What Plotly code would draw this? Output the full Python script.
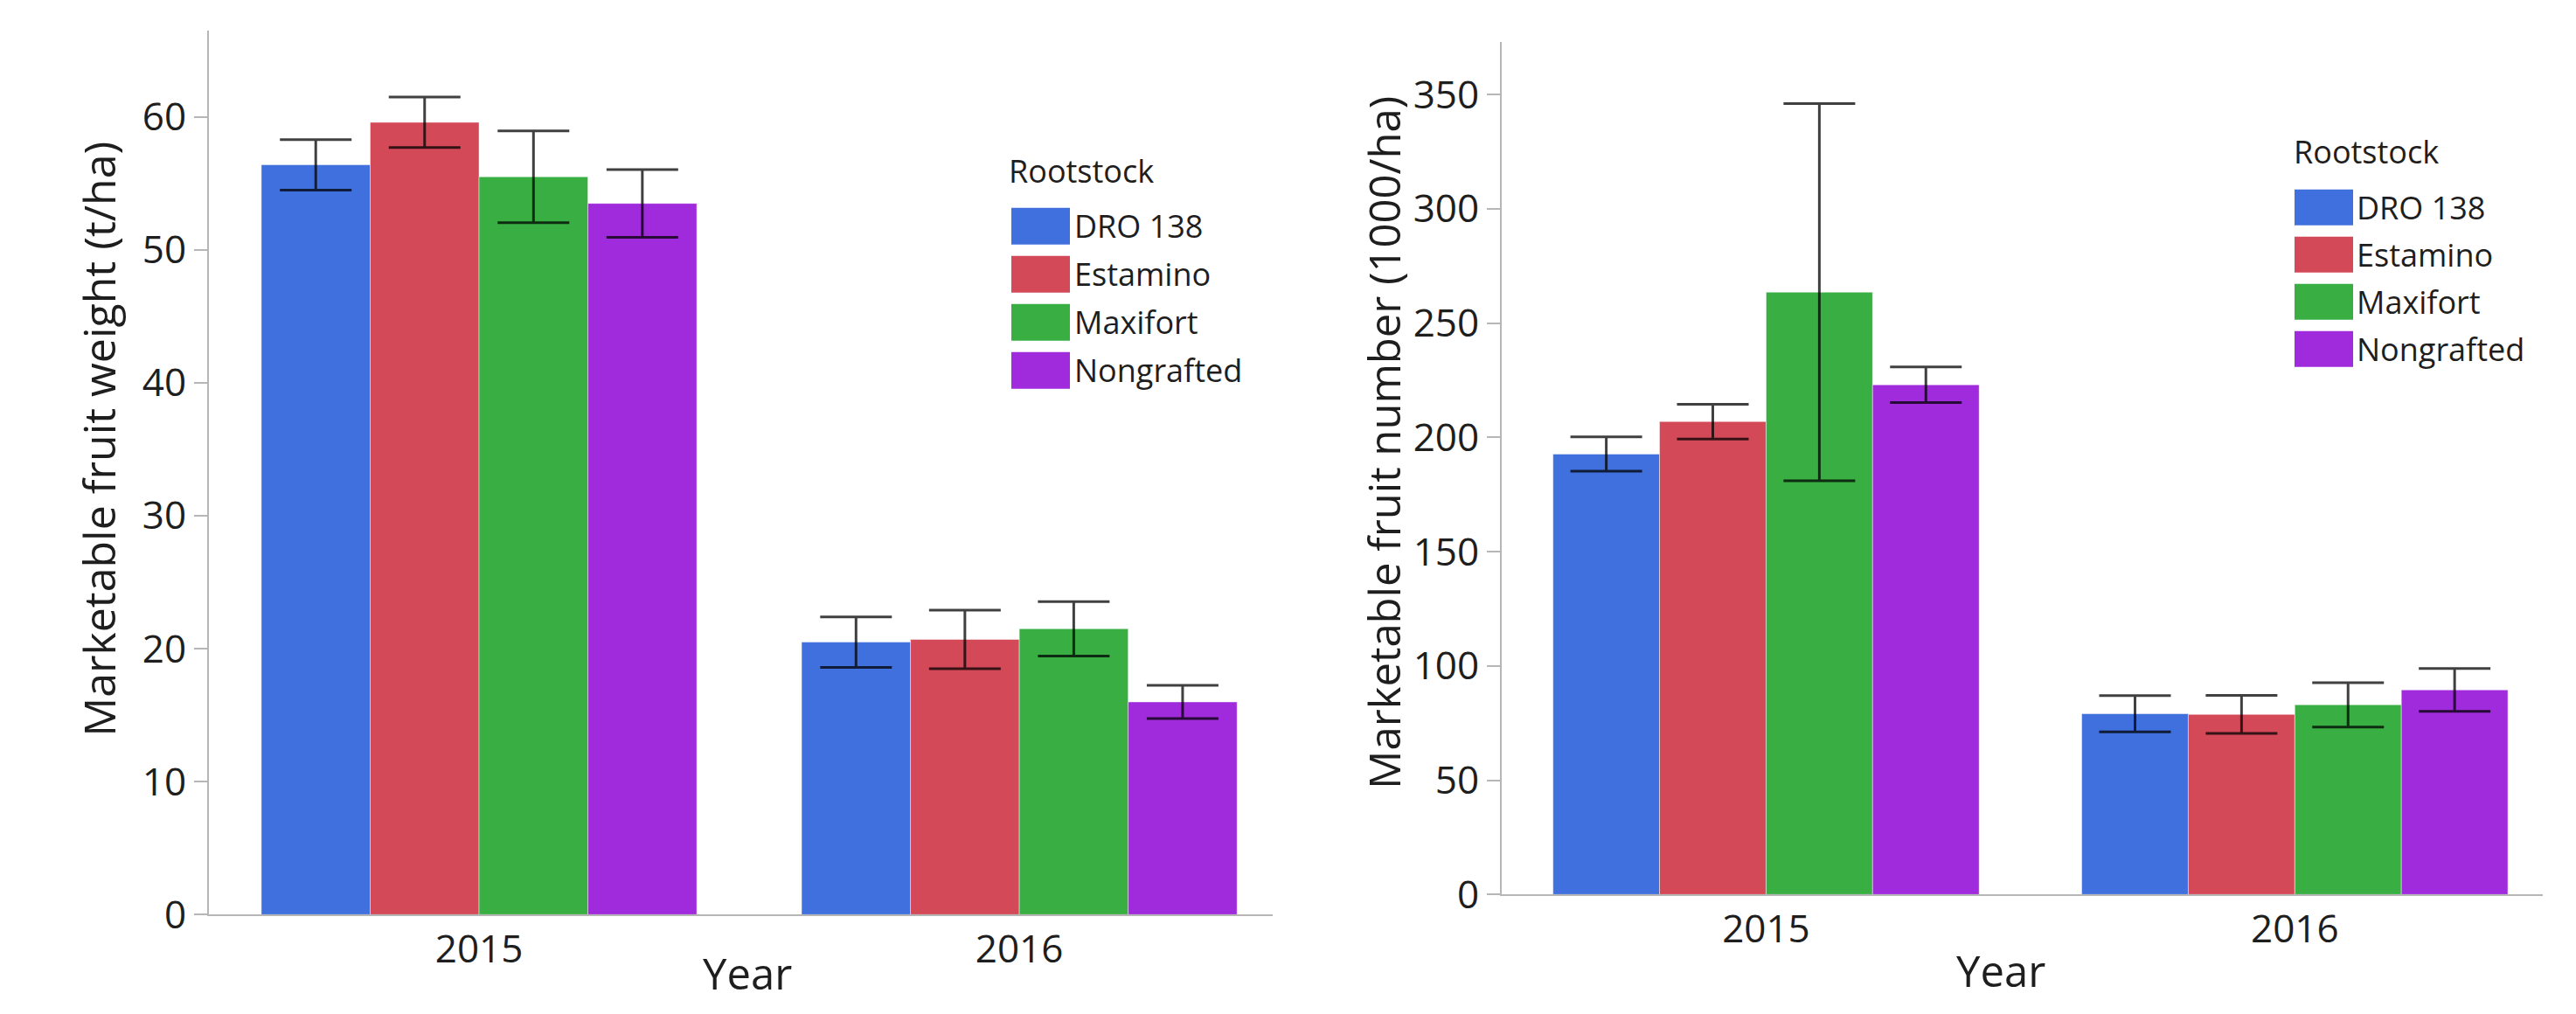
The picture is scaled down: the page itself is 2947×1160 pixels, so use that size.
import plotly.graph_objects as go

W, H = 2947, 1160
# the rendered page comes out slightly taller than the figure, so vertical
# pixel targets are stretched by this factor before converting to paper units
VSTRETCH = 1 / 0.9765

years = ["2015", "2016"]
rootstocks = ["DRO 138", "Estamino", "Maxifort", "Nongrafted"]
bar_colors = ["#4070de", "#d44958", "#39af43", "#a02bdc"]

# Marketable fruit weight (t/ha): means and error half-widths per year
weight_dro138 = [56.4, 20.5]
weight_estamino = [59.6, 20.7]
weight_maxifort = [55.5, 21.5]
weight_nongrafted = [53.5, 16.0]
weight_dro138_err = [1.9, 1.9]
weight_estamino_err = [1.9, 2.2]
weight_maxifort_err = [3.45, 2.05]
weight_nongrafted_err = [2.55, 1.25]

# Marketable fruit number (1000/ha): means and error half-widths per year
number_dro138 = [192.7, 79.1]
number_estamino = [206.9, 78.8]
number_maxifort = [263.5, 83.0]
number_nongrafted = [223.0, 89.5]
number_dro138_err = [7.5, 7.9]
number_estamino_err = [7.6, 8.3]
number_maxifort_err = [82.5, 9.7]
number_nongrafted_err = [7.8, 9.35]

weight_means = [weight_dro138, weight_estamino, weight_maxifort, weight_nongrafted]
weight_errs = [weight_dro138_err, weight_estamino_err, weight_maxifort_err, weight_nongrafted_err]
number_means = [number_dro138, number_estamino, number_maxifort, number_nongrafted]
number_errs = [number_dro138_err, number_estamino_err, number_maxifort_err, number_nongrafted_err]

FONT = "Open Sans, Noto Sans, sans-serif"
TEXT = "#1e1e1e"
AXIS = "#b6b6b6"


def fx(px):
    return px / W


def fy(py):
    return max(0.0, 1 - py * VSTRETCH / H)


fig = go.Figure()


def add_bars(means, errs, xa, ya):
    for name, color, m, e in zip(rootstocks, bar_colors, means, errs):
        fig.add_trace(go.Bar(
            x=years, y=m, name=name, xaxis=xa, yaxis=ya, showlegend=False,
            marker=dict(color=color, line=dict(color="rgba(255,255,255,0.45)", width=1)),
            error_y=dict(type="data", array=e, visible=True,
                         color="rgba(0,0,0,0.75)", thickness=3, width=41),
        ))


add_bars(weight_means, weight_errs, "x", "y")
add_bars(number_means, number_errs, "x2", "y2")

xcommon = dict(type="category", categoryorder="array", categoryarray=years,
               range=[-0.5, 1.469], showline=True, linecolor=AXIS, linewidth=2,
               ticks="", showgrid=False, zeroline=False,
               tickfont=dict(family=FONT, size=44, color=TEXT))
ycommon = dict(showline=True, linecolor=AXIS, linewidth=2, ticks="outside",
               ticklen=15, tickwidth=2, tickcolor=AXIS, showgrid=False,
               zeroline=False, tickfont=dict(family=FONT, size=44, color=TEXT))

fig.update_layout(
    width=W, height=H,
    margin=dict(l=0, r=0, t=0, b=0),
    paper_bgcolor="white", plot_bgcolor="white",
    barmode="group", bargap=0.194, bargroupgap=0,
    font=dict(family=FONT, color=TEXT),
    xaxis=dict(domain=[fx(239), fx(1456)], anchor="y", **xcommon),
    yaxis=dict(domain=[fy(1047), fy(35)], anchor="x", range=[0, 66.5],
               tick0=0, dtick=10, **ycommon),
    xaxis2=dict(domain=[fx(1718), fx(2909)], anchor="y2", **xcommon),
    yaxis2=dict(domain=[fy(1024), fy(48)], anchor="x2", range=[0, 373],
                tick0=0, dtick=50, **ycommon),
)

annotations = [
    dict(text="Marketable fruit weight (t/ha)", x=fx(113), y=fy(503), textangle=-90,
         font=dict(size=50)),
    dict(text="Year", x=fx(855), y=0, yanchor="bottom", yshift=-16, font=dict(size=49)),
    dict(text="Marketable fruit number (1000/ha)", x=fx(1583), y=fy(507), textangle=-90,
         font=dict(size=49)),
    dict(text="Year", x=fx(2289), y=fy(1111), font=dict(size=49)),
]

shapes = []


def add_legend(title_x, title_y, sw_x0, sw_x1, sw_top, sw_h, step, text_x):
    annotations.append(dict(text="Rootstock", x=fx(title_x), y=fy(title_y),
                            xanchor="left", font=dict(size=36)))
    for i, (name, color) in enumerate(zip(rootstocks, bar_colors)):
        top = sw_top + i * step
        shapes.append(dict(type="rect", xref="paper", yref="paper",
                           x0=fx(sw_x0), x1=fx(sw_x1), y0=fy(top + sw_h), y1=fy(top),
                           fillcolor=color, line=dict(width=0)))
        annotations.append(dict(text=name, x=fx(text_x), y=fy(top + sw_h / 2),
                                xanchor="left", font=dict(size=36)))


add_legend(1152, 196, 1157, 1224, 238, 42, 55, 1227)
add_legend(2622, 174, 2625, 2692, 217, 41, 54, 2694)

for a in annotations:
    a.update(xref="paper", yref="paper", showarrow=False)
    a.setdefault("xanchor", "center")
    a.setdefault("yanchor", "middle")
    a["font"].update(family=FONT, color=TEXT)

fig.update_layout(annotations=annotations, shapes=shapes)

fig.write_html("out.html")
